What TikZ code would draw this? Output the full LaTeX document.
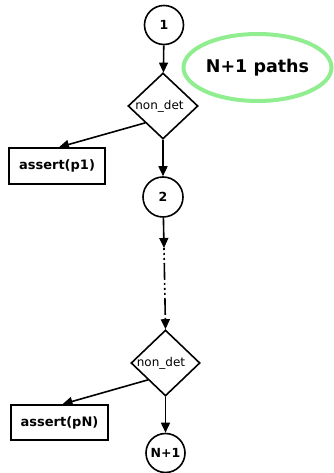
\documentclass[tikz,border=0pt]{standalone}
\usepackage{fontspec}
\setmainfont{DejaVu Sans}
\usetikzlibrary{shapes.geometric,arrows.meta,calc}
\definecolor{pathgreen}{RGB}{144,238,144}
\begin{document}
\begin{tikzpicture}[x=1pt,y=1pt,
  line width=1.6pt,
  >={Triangle[length=10pt,width=9pt]},
  statenode/.style={circle,draw,minimum size=39pt,inner sep=0pt,font=\fontsize{12.5}{14}\selectfont\bfseries},
  choice/.style={diamond,draw,minimum width=70pt,minimum height=66pt,inner sep=0pt},
  choicelabel/.style={font=\fontsize{12}{14}\selectfont,inner sep=0pt},
  checkbox/.style={rectangle,draw,minimum width=96pt,minimum height=36pt,inner sep=0pt,font=\fontsize{13}{15}\selectfont\bfseries},
  skipped/.style={dash pattern=on 2pt off 3pt on 2pt off 3pt on 2pt off 3pt on 17pt off 3pt},
]
\useasboundingbox (0,0) rectangle (333,473);

% flow nodes
\node[statenode] (s1) at (164,448) {1};
\node[choice] (d1) at (163,367) {};
\node[choicelabel] (d1l) at (159.5,367) {non\_det};
\node[checkbox] (p1) at (57,307) {assert(p1)};
\node[statenode,minimum size=40pt] (s2) at (163,276) {2};
\coordinate (gap) at (164,225);
\node[choice,minimum width=69pt] (d2) at (165.5,110) {};
\node[choicelabel] (d2l) at (161,110) {non\_det};
\node[checkbox,minimum width=97pt,minimum height=35pt] (pN) at (59.5,50.5) {assert(pN)};
\node[statenode] (sN) at (165.5,20) {N+1};

% path count annotation
\node[ellipse,draw=pathgreen,line width=4pt,minimum width=148pt,minimum height=67pt,inner sep=0pt,
  font=\fontsize{17.5}{19}\selectfont\bfseries] (paths) at (257.5,405.5) {N+1 paths};

% connectors
\draw[->] (s1) -- (d1);
\draw[->] (d1.south west) -- ($(p1.north)+(2,0)$);
\draw[->] (d1) -- (s2);
\draw[->] (s2) -- (gap);
\draw[->,skipped] (gap) -- (d2.north);
\draw[->] (d2.south west) -- ($(pN.north)+(3,0)$);
\draw[->] (d2) -- (sN);
\end{tikzpicture}
\end{document}
